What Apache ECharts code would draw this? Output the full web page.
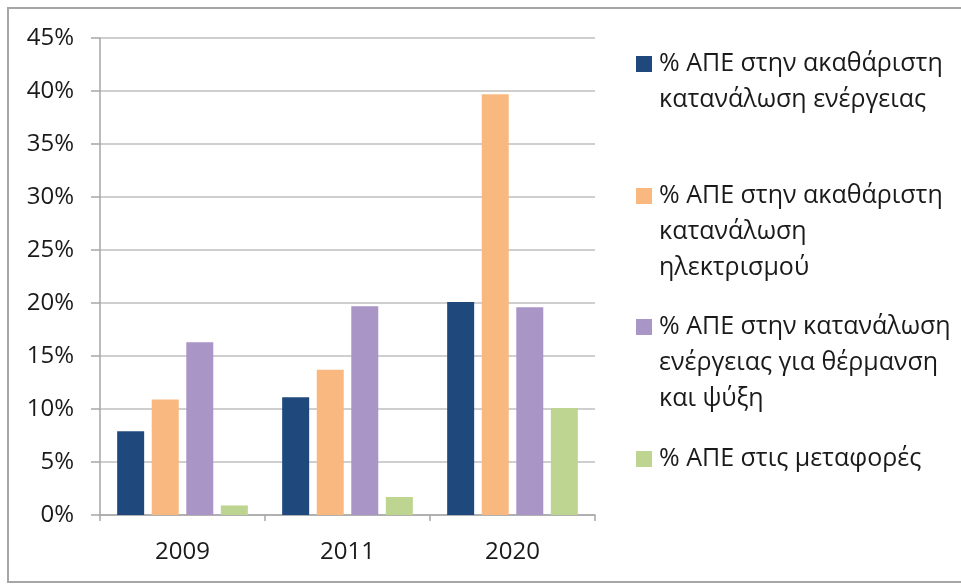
<!DOCTYPE html>
<html>
<head>
<meta charset="utf-8">
<script src="https://cdn.jsdelivr.net/npm/echarts@6/dist/echarts.min.js"></script>
<style>
html,body{margin:0;padding:0;background:#fff;}
#c{width:961px;height:585px;}
</style>
</head>
<body>
<div id="c"></div>
<script>
var categories = ['2009', '2011', '2020'];
var seriesNames = [
  '% ΑΠΕ στην ακαθάριστη κατανάλωση ενέργειας',
  '% ΑΠΕ στην ακαθάριστη κατανάλωση ηλεκτρισμού',
  '% ΑΠΕ στην κατανάλωση ενέργειας για θέρμανση και ψύξη',
  '% ΑΠΕ στις μεταφορές'
];
var legendLines = [
  ['% ΑΠΕ στην ακαθάριστη', 'κατανάλωση ενέργειας'],
  ['% ΑΠΕ στην ακαθάριστη', 'κατανάλωση', 'ηλεκτρισμού'],
  ['% ΑΠΕ στην κατανάλωση', 'ενέργειας για θέρμανση', 'και ψύξη'],
  ['% ΑΠΕ στις μεταφορές']
];
var grossEnergy = [7.9, 11.1, 20.1];
var electricity = [10.9, 13.7, 39.7];
var heatingCooling = [16.3, 19.7, 19.6];
var transport = [0.9, 1.7, 10.1];
var yTicks = [0, 5, 10, 15, 20, 25, 30, 35, 40, 45];

var colors = ['#1F497D', '#F9B880', '#A996C6', '#BED491'];
var seriesData = [grossEnergy, electricity, heatingCooling, transport];
var legendTop = [56, 188, 319, 451];
var font = '25px "Open Sans", sans-serif';

var chart = echarts.init(document.getElementById('c'));

var graphics = [{
  type: 'rect',
  shape: {x: 8, y: 8, width: 965, height: 574},
  style: {fill: 'none', stroke: '#A6A6A6', lineWidth: 2},
  silent: true
}];
legendLines.forEach(function (lines, i) {
  graphics.push({
    type: 'rect',
    shape: {x: 636, y: legendTop[i], width: 16, height: 16},
    style: {fill: colors[i]}
  });
  graphics.push({
    type: 'text',
    x: 659, y: legendTop[i] - 10,
    style: {
      text: lines.join('\n'),
      font: font,
      fill: '#1a1a1a',
      lineHeight: 36,
      verticalAlign: 'top'
    }
  });
});

chart.setOption({
  animation: false,
  color: colors,
  grid: {left: 100, right: 366, top: 38, bottom: 70},
  xAxis: {
    type: 'category',
    data: categories,
    axisLine: {lineStyle: {color: '#A6A6A6', width: 1.5}},
    axisTick: {show: true, length: 6, lineStyle: {color: '#A6A6A6', width: 1.5}},
    axisLabel: {color: '#1a1a1a', fontSize: 24, fontFamily: 'Open Sans', margin: 25}
  },
  yAxis: {
    type: 'value',
    min: yTicks[0],
    max: yTicks[yTicks.length - 1],
    interval: 5,
    axisLine: {show: true, lineStyle: {color: '#A6A6A6', width: 1.5}},
    axisTick: {show: true, length: 9, lineStyle: {color: '#A6A6A6', width: 1.5}},
    axisLabel: {color: '#1a1a1a', fontSize: 24, fontFamily: 'Open Sans', margin: 26, formatter: '{value}%'},
    splitLine: {lineStyle: {color: '#BFBFBF', width: 1.5}}
  },
  series: seriesNames.map(function (name, i) {
    return {
      name: name,
      type: 'bar',
      data: seriesData[i],
      barWidth: 27,
      barGap: '28%'
    };
  }),
  graphic: graphics
});
</script>
</body>
</html>
